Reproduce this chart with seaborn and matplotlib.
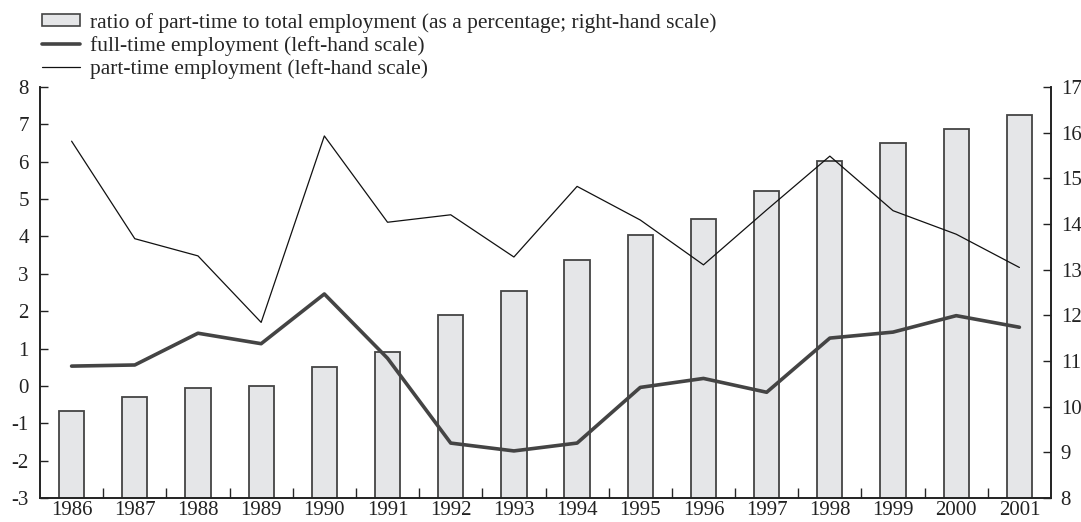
import numpy as np
import pandas as pd
import matplotlib
matplotlib.use("Agg")
import matplotlib.pyplot as plt
import seaborn as sns
from matplotlib.patches import Patch
from matplotlib.lines import Line2D
from matplotlib.ticker import FixedLocator

years = ["1986", "1987", "1988", "1989", "1990", "1991", "1992", "1993",
         "1994", "1995", "1996", "1997", "1998", "1999", "2000", "2001"]
ratio_part_time = [9.90, 10.22, 10.40, 10.46, 10.86, 11.20, 12.01, 12.54,
                   13.22, 13.75, 14.12, 14.73, 15.37, 15.77, 16.08, 16.39]
full_time = [0.53, 0.56, 1.41, 1.13, 2.46, 0.74, -1.53, -1.74,
             -1.53, -0.04, 0.20, -0.17, 1.28, 1.44, 1.88, 1.57]
part_time = [6.55, 3.94, 3.48, 1.70, 6.69, 4.38, 4.58, 3.45,
             5.34, 4.44, 3.24, 4.71, 6.15, 4.69, 4.06, 3.17]

label_ratio = "ratio of part-time to total employment (as a percentage; right-hand scale)"
label_full = "full-time employment (left-hand scale)"
label_part = "part-time employment (left-hand scale)"

sns.set_theme(style="white")
plt.rcParams["font.family"] = ["Liberation Serif", "DejaVu Serif"]
plt.rcParams["font.size"] = 15
plt.rcParams["axes.unicode_minus"] = False

df = pd.DataFrame({"year": years, "ratio": ratio_part_time,
                   "full": full_time, "part": part_time,
                   "pos": np.arange(len(years))})

fig = plt.figure(figsize=(10.81, 5.22), dpi=100)
ax = fig.add_axes([40 / 1081, 24 / 522, 1011 / 1081, 411 / 522])
ax2 = ax.twinx()

bar_fill = "#e5e6e8"
bar_edge = "#444444"
sns.barplot(data=df, x="year", y="ratio", ax=ax2, color=bar_fill,
            edgecolor=bar_edge, linewidth=1.3, width=0.4, saturation=1)
sns.lineplot(data=df, x="pos", y="full", ax=ax, color="#444444", linewidth=2.6)
sns.lineplot(data=df, x="pos", y="part", ax=ax, color="#111111", linewidth=0.9)

ax.set_zorder(ax2.get_zorder() + 1)
ax.patch.set_visible(False)

ax.set_xlim(-0.5, len(years) - 0.5)
ax.set_ylim(-3, 8)
ax2.set_ylim(8, 17)
ax.set_yticks(range(-3, 9))
ax2.set_yticks(range(8, 18))
ax.set_xticks(np.arange(len(years)))
ax.set_xticklabels(years)
ax.xaxis.set_minor_locator(FixedLocator(np.arange(len(years) - 1) + 0.5))
ax.set_xlabel("")
ax.set_ylabel("")
ax2.set_xlabel("")
ax2.set_ylabel("")

for a in (ax, ax2):
    a.spines["top"].set_visible(False)
    for s in ("left", "right", "bottom"):
        a.spines[s].set_color("#222222")
        a.spines[s].set_linewidth(1.2)
    a.tick_params(colors="#222222", labelsize=15)

ax.tick_params(axis="x", which="major", length=0, pad=2)
ax.tick_params(axis="x", which="minor", direction="in", length=7, width=1, bottom=True)
ax.tick_params(axis="y", direction="in", length=6, width=1, left=True, pad=8)
ax2.tick_params(axis="y", direction="in", length=6, width=1, right=True, pad=7)
ax2.tick_params(axis="x", length=0)

handles = [Patch(facecolor=bar_fill, edgecolor=bar_edge, linewidth=1.2),
           Line2D([], [], color="#444444", linewidth=2.6),
           Line2D([], [], color="#111111", linewidth=0.9)]
fig.legend(handles, [label_ratio, label_full, label_part], loc="upper left",
           bbox_to_anchor=(42 / 1081, 1 - 13 / 522), frameon=False, fontsize=15.5,
           handlelength=1.77, handleheight=0.5, labelspacing=0.15,
           handletextpad=0.47, borderaxespad=0, borderpad=0)

fig.savefig("out.png", dpi=100)
